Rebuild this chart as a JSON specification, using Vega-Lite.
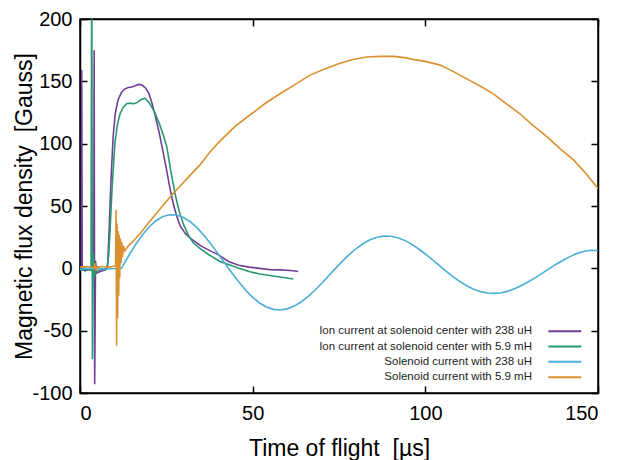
{
  "$schema": "https://vega.github.io/schema/vega-lite/v6.json",
  "width": 518,
  "height": 374,
  "autosize": "none",
  "padding": {"left": 80, "top": 19, "right": 20, "bottom": 67},
  "background": "white",
  "config": {
    "font": "Liberation Sans",
    "view": {"stroke": "black", "strokeWidth": 1.5},
    "axis": {
      "grid": false,
      "domainColor": "black",
      "domainWidth": 1.5,
      "tickColor": "black",
      "tickWidth": 1.5,
      "tickSize": -7,
      "labelFontSize": 20,
      "labelColor": "black",
      "titleFontSize": 23,
      "titleFontWeight": "normal",
      "titleColor": "black"
    }
  },
  "data": {
    "values": [
      {"s": "Ion current at solenoid center with 238 uH", "x": 0, "y": -1},
      {"s": "Ion current at solenoid center with 238 uH", "x": 0.4, "y": -1},
      {"s": "Ion current at solenoid center with 238 uH", "x": 0.5, "y": 159},
      {"s": "Ion current at solenoid center with 238 uH", "x": 0.65, "y": -1},
      {"s": "Ion current at solenoid center with 238 uH", "x": 1.5, "y": -2},
      {"s": "Ion current at solenoid center with 238 uH", "x": 2.5, "y": -1},
      {"s": "Ion current at solenoid center with 238 uH", "x": 3.5, "y": -1.5},
      {"s": "Ion current at solenoid center with 238 uH", "x": 4.0, "y": -2},
      {"s": "Ion current at solenoid center with 238 uH", "x": 4.1, "y": 175},
      {"s": "Ion current at solenoid center with 238 uH", "x": 4.25, "y": -93},
      {"s": "Ion current at solenoid center with 238 uH", "x": 4.5, "y": 6},
      {"s": "Ion current at solenoid center with 238 uH", "x": 4.8, "y": -4},
      {"s": "Ion current at solenoid center with 238 uH", "x": 5.5, "y": -3},
      {"s": "Ion current at solenoid center with 238 uH", "x": 6.5, "y": -2},
      {"s": "Ion current at solenoid center with 238 uH", "x": 7.5, "y": -1},
      {"s": "Ion current at solenoid center with 238 uH", "x": 8, "y": 2},
      {"s": "Ion current at solenoid center with 238 uH", "x": 8.5, "y": 35},
      {"s": "Ion current at solenoid center with 238 uH", "x": 9, "y": 72},
      {"s": "Ion current at solenoid center with 238 uH", "x": 9.6, "y": 106},
      {"s": "Ion current at solenoid center with 238 uH", "x": 10.2, "y": 124},
      {"s": "Ion current at solenoid center with 238 uH", "x": 11, "y": 135},
      {"s": "Ion current at solenoid center with 238 uH", "x": 12, "y": 141},
      {"s": "Ion current at solenoid center with 238 uH", "x": 13, "y": 144},
      {"s": "Ion current at solenoid center with 238 uH", "x": 14, "y": 145},
      {"s": "Ion current at solenoid center with 238 uH", "x": 15, "y": 145.5},
      {"s": "Ion current at solenoid center with 238 uH", "x": 16, "y": 146.5},
      {"s": "Ion current at solenoid center with 238 uH", "x": 17, "y": 147.5},
      {"s": "Ion current at solenoid center with 238 uH", "x": 18, "y": 147},
      {"s": "Ion current at solenoid center with 238 uH", "x": 19, "y": 144.5},
      {"s": "Ion current at solenoid center with 238 uH", "x": 20, "y": 140},
      {"s": "Ion current at solenoid center with 238 uH", "x": 21, "y": 131},
      {"s": "Ion current at solenoid center with 238 uH", "x": 22, "y": 120},
      {"s": "Ion current at solenoid center with 238 uH", "x": 23, "y": 108},
      {"s": "Ion current at solenoid center with 238 uH", "x": 24, "y": 94},
      {"s": "Ion current at solenoid center with 238 uH", "x": 25, "y": 80},
      {"s": "Ion current at solenoid center with 238 uH", "x": 26, "y": 65},
      {"s": "Ion current at solenoid center with 238 uH", "x": 27, "y": 52},
      {"s": "Ion current at solenoid center with 238 uH", "x": 28, "y": 42},
      {"s": "Ion current at solenoid center with 238 uH", "x": 29, "y": 34},
      {"s": "Ion current at solenoid center with 238 uH", "x": 30.5, "y": 28},
      {"s": "Ion current at solenoid center with 238 uH", "x": 32, "y": 24},
      {"s": "Ion current at solenoid center with 238 uH", "x": 33.5, "y": 21},
      {"s": "Ion current at solenoid center with 238 uH", "x": 35, "y": 18},
      {"s": "Ion current at solenoid center with 238 uH", "x": 37, "y": 15},
      {"s": "Ion current at solenoid center with 238 uH", "x": 40, "y": 11},
      {"s": "Ion current at solenoid center with 238 uH", "x": 43, "y": 5.5},
      {"s": "Ion current at solenoid center with 238 uH", "x": 46, "y": 2.5},
      {"s": "Ion current at solenoid center with 238 uH", "x": 49, "y": 1},
      {"s": "Ion current at solenoid center with 238 uH", "x": 52, "y": 0},
      {"s": "Ion current at solenoid center with 238 uH", "x": 55, "y": -1},
      {"s": "Ion current at solenoid center with 238 uH", "x": 58, "y": -1.2},
      {"s": "Ion current at solenoid center with 238 uH", "x": 61, "y": -1.8},
      {"s": "Ion current at solenoid center with 238 uH", "x": 63.2, "y": -2.5},

      {"s": "Ion current at solenoid center with 5.9 mH", "x": 0, "y": -1},
      {"s": "Ion current at solenoid center with 5.9 mH", "x": 2, "y": -1},
      {"s": "Ion current at solenoid center with 5.9 mH", "x": 3.2, "y": -1.5},
      {"s": "Ion current at solenoid center with 5.9 mH", "x": 3.4, "y": 260},
      {"s": "Ion current at solenoid center with 5.9 mH", "x": 3.6, "y": -73},
      {"s": "Ion current at solenoid center with 5.9 mH", "x": 3.85, "y": 12},
      {"s": "Ion current at solenoid center with 5.9 mH", "x": 4.2, "y": -6},
      {"s": "Ion current at solenoid center with 5.9 mH", "x": 5, "y": -2},
      {"s": "Ion current at solenoid center with 5.9 mH", "x": 6.5, "y": -1},
      {"s": "Ion current at solenoid center with 5.9 mH", "x": 7.8, "y": 0},
      {"s": "Ion current at solenoid center with 5.9 mH", "x": 8.3, "y": 10},
      {"s": "Ion current at solenoid center with 5.9 mH", "x": 8.7, "y": 30},
      {"s": "Ion current at solenoid center with 5.9 mH", "x": 9.3, "y": 65},
      {"s": "Ion current at solenoid center with 5.9 mH", "x": 10.1, "y": 100},
      {"s": "Ion current at solenoid center with 5.9 mH", "x": 10.8, "y": 115},
      {"s": "Ion current at solenoid center with 5.9 mH", "x": 11.6, "y": 124},
      {"s": "Ion current at solenoid center with 5.9 mH", "x": 12.5, "y": 129},
      {"s": "Ion current at solenoid center with 5.9 mH", "x": 13.5, "y": 132},
      {"s": "Ion current at solenoid center with 5.9 mH", "x": 14.5, "y": 132.5},
      {"s": "Ion current at solenoid center with 5.9 mH", "x": 15.5, "y": 132},
      {"s": "Ion current at solenoid center with 5.9 mH", "x": 16.5, "y": 133},
      {"s": "Ion current at solenoid center with 5.9 mH", "x": 17.5, "y": 135},
      {"s": "Ion current at solenoid center with 5.9 mH", "x": 18.8, "y": 136.5},
      {"s": "Ion current at solenoid center with 5.9 mH", "x": 20, "y": 133},
      {"s": "Ion current at solenoid center with 5.9 mH", "x": 21.5, "y": 126},
      {"s": "Ion current at solenoid center with 5.9 mH", "x": 23, "y": 116},
      {"s": "Ion current at solenoid center with 5.9 mH", "x": 24, "y": 108},
      {"s": "Ion current at solenoid center with 5.9 mH", "x": 25.1, "y": 98},
      {"s": "Ion current at solenoid center with 5.9 mH", "x": 26.3, "y": 78},
      {"s": "Ion current at solenoid center with 5.9 mH", "x": 27.5, "y": 60},
      {"s": "Ion current at solenoid center with 5.9 mH", "x": 28.7, "y": 46},
      {"s": "Ion current at solenoid center with 5.9 mH", "x": 30, "y": 35},
      {"s": "Ion current at solenoid center with 5.9 mH", "x": 31.5, "y": 26},
      {"s": "Ion current at solenoid center with 5.9 mH", "x": 32.8, "y": 20.5},
      {"s": "Ion current at solenoid center with 5.9 mH", "x": 34.7, "y": 16},
      {"s": "Ion current at solenoid center with 5.9 mH", "x": 37, "y": 11.5},
      {"s": "Ion current at solenoid center with 5.9 mH", "x": 40.5, "y": 5.5},
      {"s": "Ion current at solenoid center with 5.9 mH", "x": 43.4, "y": 2.7},
      {"s": "Ion current at solenoid center with 5.9 mH", "x": 46, "y": 0},
      {"s": "Ion current at solenoid center with 5.9 mH", "x": 49.2, "y": -2.7},
      {"s": "Ion current at solenoid center with 5.9 mH", "x": 52, "y": -4.5},
      {"s": "Ion current at solenoid center with 5.9 mH", "x": 55, "y": -5.8},
      {"s": "Ion current at solenoid center with 5.9 mH", "x": 58, "y": -7},
      {"s": "Ion current at solenoid center with 5.9 mH", "x": 61.8, "y": -8.6},

      {"s": "Solenoid current with 238 uH", "x": 0, "y": -0.5},
      {"s": "Solenoid current with 238 uH", "x": 4, "y": 0},
      {"s": "Solenoid current with 238 uH", "x": 8, "y": -0.5},
      {"s": "Solenoid current with 238 uH", "x": 12, "y": 0},
      {"s": "Solenoid current with 238 uH", "x": 14, "y": 9.7},
      {"s": "Solenoid current with 238 uH", "x": 16, "y": 18.7},
      {"s": "Solenoid current with 238 uH", "x": 18, "y": 26.6},
      {"s": "Solenoid current with 238 uH", "x": 20, "y": 33.2},
      {"s": "Solenoid current with 238 uH", "x": 22, "y": 38.2},
      {"s": "Solenoid current with 238 uH", "x": 24, "y": 41.5},
      {"s": "Solenoid current with 238 uH", "x": 26, "y": 43.0},
      {"s": "Solenoid current with 238 uH", "x": 28, "y": 42.8},
      {"s": "Solenoid current with 238 uH", "x": 30, "y": 40.8},
      {"s": "Solenoid current with 238 uH", "x": 32, "y": 37.2},
      {"s": "Solenoid current with 238 uH", "x": 34, "y": 32.2},
      {"s": "Solenoid current with 238 uH", "x": 36, "y": 26.1},
      {"s": "Solenoid current with 238 uH", "x": 38, "y": 19.1},
      {"s": "Solenoid current with 238 uH", "x": 40, "y": 11.6},
      {"s": "Solenoid current with 238 uH", "x": 42, "y": 3.9},
      {"s": "Solenoid current with 238 uH", "x": 44, "y": -3.8},
      {"s": "Solenoid current with 238 uH", "x": 46, "y": -11.0},
      {"s": "Solenoid current with 238 uH", "x": 48, "y": -17.6},
      {"s": "Solenoid current with 238 uH", "x": 50, "y": -23.3},
      {"s": "Solenoid current with 238 uH", "x": 52, "y": -27.8},
      {"s": "Solenoid current with 238 uH", "x": 54, "y": -31.0},
      {"s": "Solenoid current with 238 uH", "x": 56, "y": -32.9},
      {"s": "Solenoid current with 238 uH", "x": 58, "y": -33.4},
      {"s": "Solenoid current with 238 uH", "x": 60, "y": -32.5},
      {"s": "Solenoid current with 238 uH", "x": 62, "y": -30.3},
      {"s": "Solenoid current with 238 uH", "x": 64, "y": -27.0},
      {"s": "Solenoid current with 238 uH", "x": 66, "y": -22.7},
      {"s": "Solenoid current with 238 uH", "x": 68, "y": -17.6},
      {"s": "Solenoid current with 238 uH", "x": 70, "y": -12.0},
      {"s": "Solenoid current with 238 uH", "x": 72, "y": -6.0},
      {"s": "Solenoid current with 238 uH", "x": 74, "y": 0},
      {"s": "Solenoid current with 238 uH", "x": 76, "y": 5.8},
      {"s": "Solenoid current with 238 uH", "x": 78, "y": 11.2},
      {"s": "Solenoid current with 238 uH", "x": 80, "y": 15.9},
      {"s": "Solenoid current with 238 uH", "x": 82, "y": 19.9},
      {"s": "Solenoid current with 238 uH", "x": 84, "y": 22.9},
      {"s": "Solenoid current with 238 uH", "x": 86, "y": 24.9},
      {"s": "Solenoid current with 238 uH", "x": 88, "y": 25.9},
      {"s": "Solenoid current with 238 uH", "x": 90, "y": 25.7},
      {"s": "Solenoid current with 238 uH", "x": 92, "y": 24.5},
      {"s": "Solenoid current with 238 uH", "x": 94, "y": 22.4},
      {"s": "Solenoid current with 238 uH", "x": 96, "y": 19.4},
      {"s": "Solenoid current with 238 uH", "x": 98, "y": 15.7},
      {"s": "Solenoid current with 238 uH", "x": 100, "y": 11.5},
      {"s": "Solenoid current with 238 uH", "x": 102, "y": 7.0},
      {"s": "Solenoid current with 238 uH", "x": 104, "y": 2.3},
      {"s": "Solenoid current with 238 uH", "x": 106, "y": -2.3},
      {"s": "Solenoid current with 238 uH", "x": 108, "y": -6.6},
      {"s": "Solenoid current with 238 uH", "x": 110, "y": -10.6},
      {"s": "Solenoid current with 238 uH", "x": 112, "y": -14.0},
      {"s": "Solenoid current with 238 uH", "x": 114, "y": -16.7},
      {"s": "Solenoid current with 238 uH", "x": 116, "y": -18.7},
      {"s": "Solenoid current with 238 uH", "x": 118, "y": -19.8},
      {"s": "Solenoid current with 238 uH", "x": 120, "y": -20.1},
      {"s": "Solenoid current with 238 uH", "x": 122, "y": -19.6},
      {"s": "Solenoid current with 238 uH", "x": 124, "y": -18.3},
      {"s": "Solenoid current with 238 uH", "x": 126, "y": -16.2},
      {"s": "Solenoid current with 238 uH", "x": 128, "y": -13.6},
      {"s": "Solenoid current with 238 uH", "x": 130, "y": -10.6},
      {"s": "Solenoid current with 238 uH", "x": 132, "y": -7.2},
      {"s": "Solenoid current with 238 uH", "x": 134, "y": -3.6},
      {"s": "Solenoid current with 238 uH", "x": 136, "y": 0},
      {"s": "Solenoid current with 238 uH", "x": 138, "y": 3.5},
      {"s": "Solenoid current with 238 uH", "x": 140, "y": 6.7},
      {"s": "Solenoid current with 238 uH", "x": 142, "y": 9.6},
      {"s": "Solenoid current with 238 uH", "x": 144, "y": 12.0},
      {"s": "Solenoid current with 238 uH", "x": 146, "y": 13.7},
      {"s": "Solenoid current with 238 uH", "x": 148, "y": 14.5},
      {"s": "Solenoid current with 238 uH", "x": 150, "y": 14.3},

      {"s": "Solenoid current with 5.9 mH", "x": 0, "y": 1},
      {"s": "Solenoid current with 5.9 mH", "x": 2, "y": 1.5},
      {"s": "Solenoid current with 5.9 mH", "x": 4, "y": 0.5},
      {"s": "Solenoid current with 5.9 mH", "x": 4.3, "y": 4},
      {"s": "Solenoid current with 5.9 mH", "x": 4.6, "y": -2},
      {"s": "Solenoid current with 5.9 mH", "x": 5, "y": 1},
      {"s": "Solenoid current with 5.9 mH", "x": 6.5, "y": 1.5},
      {"s": "Solenoid current with 5.9 mH", "x": 8, "y": 1},
      {"s": "Solenoid current with 5.9 mH", "x": 9.5, "y": 1.5},
      {"s": "Solenoid current with 5.9 mH", "x": 10.3, "y": 2},
      {"s": "Solenoid current with 5.9 mH", "x": 10.45, "y": 47},
      {"s": "Solenoid current with 5.9 mH", "x": 10.6, "y": -62},
      {"s": "Solenoid current with 5.9 mH", "x": 10.75, "y": 36},
      {"s": "Solenoid current with 5.9 mH", "x": 10.9, "y": -40},
      {"s": "Solenoid current with 5.9 mH", "x": 11.05, "y": 30},
      {"s": "Solenoid current with 5.9 mH", "x": 11.2, "y": -22},
      {"s": "Solenoid current with 5.9 mH", "x": 11.35, "y": 27},
      {"s": "Solenoid current with 5.9 mH", "x": 11.5, "y": -8},
      {"s": "Solenoid current with 5.9 mH", "x": 11.7, "y": 24},
      {"s": "Solenoid current with 5.9 mH", "x": 11.9, "y": 4},
      {"s": "Solenoid current with 5.9 mH", "x": 12.1, "y": 21},
      {"s": "Solenoid current with 5.9 mH", "x": 12.3, "y": 9},
      {"s": "Solenoid current with 5.9 mH", "x": 12.6, "y": 18},
      {"s": "Solenoid current with 5.9 mH", "x": 13, "y": 14},
      {"s": "Solenoid current with 5.9 mH", "x": 14, "y": 18},
      {"s": "Solenoid current with 5.9 mH", "x": 15.5, "y": 22},
      {"s": "Solenoid current with 5.9 mH", "x": 17.4, "y": 28},
      {"s": "Solenoid current with 5.9 mH", "x": 20, "y": 37},
      {"s": "Solenoid current with 5.9 mH", "x": 23, "y": 47},
      {"s": "Solenoid current with 5.9 mH", "x": 26, "y": 57},
      {"s": "Solenoid current with 5.9 mH", "x": 29, "y": 66},
      {"s": "Solenoid current with 5.9 mH", "x": 32, "y": 75},
      {"s": "Solenoid current with 5.9 mH", "x": 34.75, "y": 83},
      {"s": "Solenoid current with 5.9 mH", "x": 37.5, "y": 93},
      {"s": "Solenoid current with 5.9 mH", "x": 40.5, "y": 102},
      {"s": "Solenoid current with 5.9 mH", "x": 45, "y": 114},
      {"s": "Solenoid current with 5.9 mH", "x": 49.2, "y": 123},
      {"s": "Solenoid current with 5.9 mH", "x": 53.5, "y": 132},
      {"s": "Solenoid current with 5.9 mH", "x": 57.9, "y": 140},
      {"s": "Solenoid current with 5.9 mH", "x": 62, "y": 147},
      {"s": "Solenoid current with 5.9 mH", "x": 66.6, "y": 155},
      {"s": "Solenoid current with 5.9 mH", "x": 71, "y": 160},
      {"s": "Solenoid current with 5.9 mH", "x": 75.3, "y": 164.5},
      {"s": "Solenoid current with 5.9 mH", "x": 79, "y": 167.5},
      {"s": "Solenoid current with 5.9 mH", "x": 83, "y": 169.5},
      {"s": "Solenoid current with 5.9 mH", "x": 87, "y": 170},
      {"s": "Solenoid current with 5.9 mH", "x": 90.7, "y": 170},
      {"s": "Solenoid current with 5.9 mH", "x": 94, "y": 169},
      {"s": "Solenoid current with 5.9 mH", "x": 96.4, "y": 167.6},
      {"s": "Solenoid current with 5.9 mH", "x": 100, "y": 166},
      {"s": "Solenoid current with 5.9 mH", "x": 104.3, "y": 163},
      {"s": "Solenoid current with 5.9 mH", "x": 108, "y": 158},
      {"s": "Solenoid current with 5.9 mH", "x": 112, "y": 152},
      {"s": "Solenoid current with 5.9 mH", "x": 116, "y": 146},
      {"s": "Solenoid current with 5.9 mH", "x": 119.7, "y": 140},
      {"s": "Solenoid current with 5.9 mH", "x": 123.5, "y": 132},
      {"s": "Solenoid current with 5.9 mH", "x": 127.4, "y": 124},
      {"s": "Solenoid current with 5.9 mH", "x": 131, "y": 115},
      {"s": "Solenoid current with 5.9 mH", "x": 135.2, "y": 105.6},
      {"s": "Solenoid current with 5.9 mH", "x": 139, "y": 96},
      {"s": "Solenoid current with 5.9 mH", "x": 142.9, "y": 87},
      {"s": "Solenoid current with 5.9 mH", "x": 146.5, "y": 76},
      {"s": "Solenoid current with 5.9 mH", "x": 150, "y": 64}
    ]
  },
  "layer": [
    {
      "mark": {"type": "line", "strokeWidth": 1.6, "clip": true},
      "encoding": {
        "x": {
          "field": "x", "type": "quantitative",
          "scale": {"domain": [0, 150], "nice": false},
          "axis": {"orient": "bottom", "values": [0, 50, 100, 150], "labelExpr": "'' + datum.value", "title": "Time of flight \u00a0[µs]", "labelPadding": 17, "titlePadding": 14}
        },
        "y": {
          "field": "y", "type": "quantitative",
          "scale": {"domain": [-100, 200], "nice": false, "zero": false},
          "axis": {"orient": "left", "values": [-100, -50, 0, 50, 100, 150, 200], "labelExpr": "'' + datum.value", "title": "Magnetic flux density \u00a0[Gauss]", "labelPadding": 15, "titlePadding": -5}
        },
        "color": {
          "field": "s", "type": "nominal",
          "scale": {
            "domain": ["Ion current at solenoid center with 238 uH", "Ion current at solenoid center with 5.9 mH", "Solenoid current with 238 uH", "Solenoid current with 5.9 mH"],
            "range": ["#6f3f98", "#2a9870", "#4aaed6", "#d8912e"]
          },
          "legend": {
            "title": null,
            "orient": "none",
            "legendX": 479,
            "legendY": 306.5,
            "padding": 0,
            "labelFontSize": 11.5,
            "labelColor": "#222222",
            "labelAlign": "right",
            "labelOffset": -38.5,
            "labelLimit": 0,
            "symbolType": "M-6,0H6",
            "symbolSize": 30,
            "symbolStrokeWidth": 2,
            "rowPadding": 2.3
          }
        }
      }
    },
    {
      "transform": [{"filter": "false"}],
      "mark": {"type": "line"},
      "encoding": {
        "x": {"field": "x", "type": "quantitative", "axis": {"orient": "top", "values": [0, 50, 100, 150], "labels": false, "title": null}},
        "y": {"field": "y", "type": "quantitative", "axis": {"orient": "right", "values": [-100, -50, 0, 50, 100, 150, 200], "labels": false, "title": null}}
      }
    }
  ],
  "resolve": {"axis": {"x": "independent", "y": "independent"}}
}
